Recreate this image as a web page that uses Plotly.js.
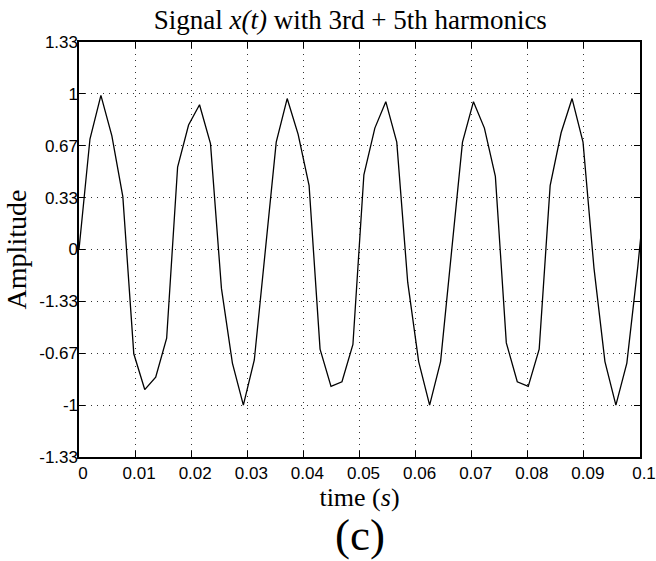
<!DOCTYPE html>
<html>
<head>
<meta charset="utf-8">
<script src="https://cdn.plot.ly/plotly-3.0.1.min.js"></script>
<style>html,body{margin:0;padding:0;background:#fff;}#chart{width:656px;height:561px;}</style>
</head>
<body>
<div id="chart"></div>
<script>
// time samples (s)
const time = [0, 0.001953, 0.003906, 0.005859, 0.007813, 0.009766, 0.011719, 0.013672, 0.015625, 0.017578,
  0.019531, 0.021484, 0.023438, 0.025391, 0.027344, 0.029297, 0.03125, 0.033203, 0.035156, 0.037109,
  0.039063, 0.041016, 0.042969, 0.044922, 0.046875, 0.048828, 0.050781, 0.052734, 0.054688, 0.056641,
  0.058594, 0.060547, 0.0625, 0.064453, 0.066406, 0.068359, 0.070313, 0.072266, 0.074219, 0.076172,
  0.078125, 0.080078, 0.082031, 0.083984, 0.085938, 0.087891, 0.089844, 0.091797, 0.09375, 0.095703,
  0.097656, 0.099609, 0.101563];
// amplitude samples
const amplitude = [0, 0.71, 0.99, 0.73, 0.34, -0.67, -0.90, -0.82, -0.57, 0.53,
  0.80, 0.93, 0.68, -0.25, -0.73, -1.00, -0.71, -0.01, 0.69, 0.97,
  0.74, 0.41, -0.64, -0.88, -0.85, -0.61, 0.48, 0.78, 0.95, 0.69,
  -0.21, -0.72, -1.00, -0.72, -0.03, 0.69, 0.95, 0.78, 0.47, -0.60,
  -0.85, -0.88, -0.64, 0.41, 0.75, 0.97, 0.69, -0.12, -0.72, -1.00,
  -0.73, -0.11, 0.60];

const xTickVals = [0, 0.01, 0.02, 0.03, 0.04, 0.05, 0.06, 0.07, 0.08, 0.09, 0.1];
const xTickText = ['0', '0.01', '0.02', '0.03', '0.04', '0.05', '0.06', '0.07', '0.08', '0.09', '0.1'];
const yTickVals = [-4/3, -1, -2/3, -1/3, 0, 1/3, 2/3, 1, 4/3];
const yTickText = ['-1.33', '-1', '-0.67', '-1.33', '0', '0.33', '0.67', '1', '1.33'];

const serif = '"Liberation Serif", "Times New Roman", serif';
const sans = '"Liberation Sans", Arial, sans-serif';

const trace = {
  x: time, y: amplitude, type: 'scatter', mode: 'lines',
  line: {color: '#000', width: 1.3}, hoverinfo: 'skip', showlegend: false
};

const axisCommon = {
  showline: true, linecolor: '#000', linewidth: 1.6, mirror: 'allticks',
  ticks: 'inside', ticklen: 6, tickwidth: 1, tickcolor: '#000',
  showgrid: true, gridcolor: '#333', gridwidth: 1, griddash: '1px,5px',
  zeroline: false, tickfont: {family: sans, size: 17, color: '#000'}
};

const layout = {
  width: 656, height: 561,
  margin: {l: 79, r: 16, t: 42, b: 104},
  paper_bgcolor: '#fff', plot_bgcolor: '#fff',
  title: {
    text: 'Signal <i>x(t)</i> with 3rd + 5th harmonics',
    font: {family: serif, size: 27, color: '#000'},
    xref: 'container', x: 0.534, xanchor: 'center',
    yref: 'container', y: 1 - 20/561, yanchor: 'middle'
  },
  xaxis: Object.assign({}, axisCommon, {
    range: [0, 0.1], tickvals: xTickVals, ticktext: xTickText,
    ticklabelstandoff: 0, ticklabelshift: 4,
    title: {text: 'time (<i>s</i>)', font: {family: serif, size: 26, color: '#000'}, standoff: 4}
  }),
  yaxis: Object.assign({}, axisCommon, {
    range: [-4/3, 4/3], tickvals: yTickVals, ticktext: yTickText,
    ticklabelstandoff: -4,
    title: {text: 'Amplitude', font: {family: serif, size: 28, color: '#000'}, standoff: 4}
  }),
  annotations: [{
    text: '(c)', xref: 'paper', yref: 'paper', x: 0.5, y: -0.188,
    xanchor: 'center', yanchor: 'middle', showarrow: false,
    font: {family: serif, size: 45, color: '#000'}
  }]
};

Plotly.newPlot('chart', [trace], layout, {displayModeBar: false, staticPlot: true});
</script>
</body>
</html>
